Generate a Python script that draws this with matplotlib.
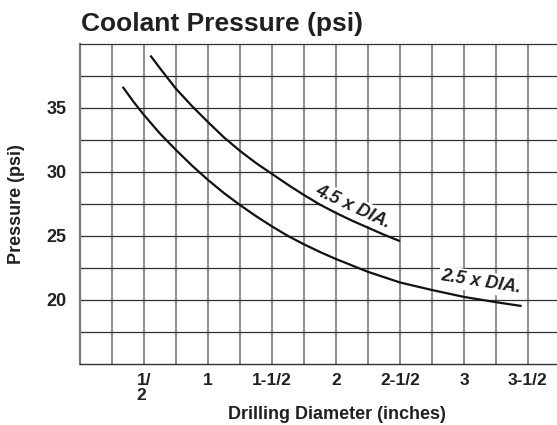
import matplotlib
matplotlib.use("Agg")
import matplotlib.pyplot as plt
from matplotlib.ticker import FixedLocator

plt.rcParams['font.family'] = ['Liberation Sans', 'DejaVu Sans']

# ---- data ----
x_ticks = [0.5, 1.0, 1.5, 2.0, 2.5, 3.0, 3.5]
x_labels = ["1/\n2", "1", "1-1/2", "2", "2-1/2", "3", "3-1/2"]
y_ticks = [20, 25, 30, 35]
y_labels = ["20", "25", "30", "35"]

dia45_x = [0.55, 0.625, 0.75, 0.875, 1.0, 1.125, 1.25, 1.375, 1.5, 1.625, 1.75,
           1.875, 2.0, 2.125, 2.25, 2.375, 2.5]
dia45_y = [39.1, 38.1, 36.5, 35.15, 33.9, 32.7, 31.65, 30.7, 29.85, 29.0, 28.2,
           27.45, 26.8, 26.2, 25.65, 25.1, 24.6]

dia25_x = [0.333, 0.417, 0.5, 0.625, 0.75, 0.875, 1.0, 1.125, 1.25, 1.375, 1.5,
           1.625, 1.75, 1.875, 2.0, 2.25, 2.5, 2.75, 3.0, 3.25, 3.45]
dia25_y = [36.66, 35.5, 34.45, 33.0, 31.72, 30.5, 29.38, 28.35, 27.42, 26.55, 25.75,
           25.0, 24.35, 23.75, 23.2, 22.2, 21.37, 20.78, 20.24, 19.83, 19.53]

W, H = 557, 425
fig = plt.figure(figsize=(W / 100, H / 100), dpi=100)
ax_left, ax_top, ax_bottom = 80, 44, 364
ax = fig.add_axes([ax_left / W, 1 - ax_bottom / H, (W - ax_left) / W, (ax_bottom - ax_top) / H])

ax.set_xlim(0, (W - ax_left) / 128.0)
ax.set_ylim(15, 40)

# grid
ax.xaxis.set_minor_locator(FixedLocator([0.25 * i for i in range(1, 15)]))
ax.yaxis.set_minor_locator(FixedLocator([17.5 + 2.5 * i for i in range(9)]))
ax.set_xticks(x_ticks)
ax.set_xticklabels(x_labels)
ax.set_yticks(y_ticks)
ax.set_yticklabels(y_labels)
ax.grid(True, axis='x', which='both', color='#7a7a7a', linewidth=1.2, zorder=0)
ax.grid(True, axis='y', which='both', color='#303030', linewidth=0.9, zorder=0)
ax.set_axisbelow(True)

ax.tick_params(axis='both', which='both', length=0)
ax.tick_params(axis='x', pad=6.8, labelsize=12.5, labelcolor='#231f20')
ax.tick_params(axis='y', pad=9.5, labelsize=13, labelcolor='#231f20')
for lab in ax.get_xticklabels():
    lab.set_fontweight('bold')
    lab.set_linespacing(1.0)
    lab.set_multialignment('left')
for lab in ax.get_yticklabels():
    lab.set_fontweight('bold')

ax.spines['right'].set_visible(False)
ax.spines['left'].set_color('#7a7a7a')
ax.spines['left'].set_linewidth(1.6)
ax.spines['bottom'].set_color('#303030')
ax.spines['bottom'].set_linewidth(1.0)
ax.spines['top'].set_color('#303030')
ax.spines['top'].set_linewidth(0.9)

# curves
ax.plot(dia45_x, dia45_y, color='#111111', linewidth=1.6, zorder=4,
        solid_capstyle='butt', solid_joinstyle='round')
ax.plot(dia25_x, dia25_y, color='#111111', linewidth=1.6, zorder=4,
        solid_capstyle='butt', solid_joinstyle='round')

# curve labels
ax.text(2.133, 27.25, "4.5 x DIA.", rotation=-25, ha='center', va='center',
        rotation_mode='anchor', fontsize=13, fontweight='bold', fontstyle='italic',
        color='#231f20', zorder=3,
        bbox=dict(facecolor='white', edgecolor='none', pad=1.5))
ax.text(3.133, 21.4, "2.5 x DIA.", rotation=-9, ha='center', va='center',
        rotation_mode='anchor', fontsize=13, fontweight='bold', fontstyle='italic',
        color='#231f20', zorder=3,
        bbox=dict(facecolor='white', edgecolor='none', pad=1.5))

# titles / labels
fig.text(81 / W, 1 - 31.5 / H, "Coolant Pressure (psi)", ha='left', va='baseline',
         fontsize=19, fontweight='bold', color='#231f20')
fig.text(336.5 / W, 1 - 419 / H, "Drilling Diameter (inches)", ha='center', va='baseline',
         fontsize=13, fontweight='bold', color='#231f20')
fig.text(17 / W, 1 - 204 / H, "Pressure (psi)", ha='center', va='center', rotation=90,
         fontsize=13, fontweight='bold', color='#231f20')

fig.savefig("out.png", dpi=100, facecolor='white')
